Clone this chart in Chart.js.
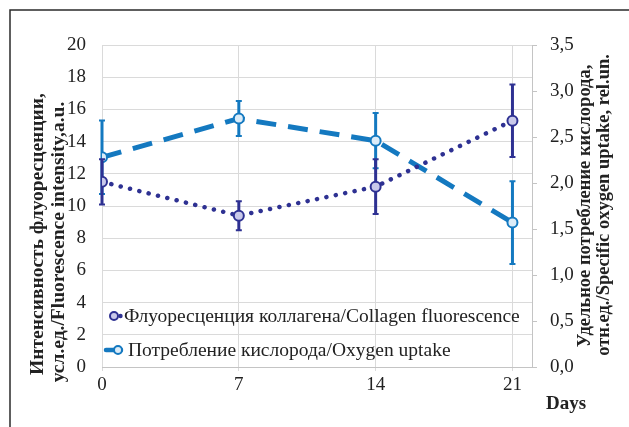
<!DOCTYPE html>
<html>
<head>
<meta charset="utf-8">
<script src="https://cdn.jsdelivr.net/npm/chart.js@4.4.1/dist/chart.umd.min.js"></script>
<style>
  html, body { margin: 0; padding: 0; background: #fff; }
  #wrap { width: 629px; height: 427px; }
</style>
</head>
<body>
<div id="wrap"><canvas id="c" width="629" height="427"></canvas></div>
<script>
// Measurement days
const days = [0, 7, 14, 21];
const dayTicks = [0, 7, 14, 21];

// Collagen fluorescence, arbitrary units (left axis)
const collagen = [11.5, 9.4, 11.2, 15.3];
const collagenErr = [1.4, 0.9, 1.7, 2.25];

// Specific oxygen uptake, relative units (right axis)
const oxygen = [2.28, 2.70, 2.46, 1.57];
const oxygenErr = [0.40, 0.19, 0.30, 0.45];

const collagenLabel = 'Флуоресценция коллагена/Collagen fluorescence';
const oxygenLabel = 'Потребление кислорода/Oxygen uptake';
const leftTitle = ['Интенсивность флуоресценции,', 'усл.ед./Fluorescence intensity,a.u.'];
const rightTitle = ['Удельное потребление кислорода,', 'отн.ед./Specific oxygen uptake, rel.un.'];
const xTitle = 'Days';

const DARK = '#2e3192';
const LIGHT = '#1479c0';
const SERIF = '"Liberation Serif", "Times New Roman", serif';

const toPoints = (xs, ys) => xs.map((x, i) => ({ x: x, y: ys[i] }));

// Vertical error bars with small caps, drawn under each series
const errorBars = {
  id: 'errorBars',
  beforeDatasetDraw(chart, args) {
    const ds = chart.data.datasets[args.index];
    if (!ds.errors) return;
    const ys = chart.scales[ds.yAxisID];
    const xs = chart.scales.x;
    const ctx = chart.ctx;
    ctx.save();
    ctx.strokeStyle = ds.borderColor;
    ctx.lineCap = 'butt';
    ds.data.forEach((p, i) => {
      const e = ds.errors[i];
      const px = xs.getPixelForValue(p.x);
      const top = ys.getPixelForValue(p.y + e);
      const bot = ys.getPixelForValue(p.y - e);
      ctx.lineWidth = 3;
      ctx.beginPath();
      ctx.moveTo(px, top); ctx.lineTo(px, bot);
      ctx.stroke();
      ctx.lineWidth = 2;
      ctx.beginPath();
      ctx.moveTo(px - 3, top); ctx.lineTo(px + 3, top);
      ctx.moveTo(px - 3, bot); ctx.lineTo(px + 3, bot);
      ctx.stroke();
    });
    ctx.restore();
  }
};

// Outer frame, rotated axis titles, "Days" and the in-plot legend
const decorations = {
  id: 'decorations',
  beforeDraw(chart) {
    const ctx = chart.ctx;
    ctx.save();
    ctx.fillStyle = '#fff';
    ctx.fillRect(0, 0, chart.width, chart.height);
    ctx.strokeStyle = '#2a2a2a';
    ctx.lineWidth = 1.5;
    ctx.beginPath();
    ctx.moveTo(10, chart.height + 2);
    ctx.lineTo(10, 10);
    ctx.lineTo(chart.width + 2, 10);
    ctx.stroke();
    ctx.restore();
  },
  afterDraw(chart) {
    const ctx = chart.ctx;
    ctx.save();
    ctx.fillStyle = '#222';
    ctx.textAlign = 'center';
    ctx.textBaseline = 'middle';
    const vText = (txt, x, y) => {
      ctx.save();
      ctx.translate(x, y);
      ctx.rotate(-Math.PI / 2);
      ctx.fillText(txt, 0, 0);
      ctx.restore();
    };
    ctx.font = 'bold 19.5px ' + SERIF;
    vText(leftTitle[0], 38, 234);
    vText(leftTitle[1], 59, 242);
    ctx.font = 'bold 18.5px ' + SERIF;
    vText(rightTitle[0], 585, 206);
    vText(rightTitle[1], 604, 205);

    ctx.font = 'bold 19px ' + SERIF;
    ctx.textAlign = 'left';
    ctx.fillText(xTitle, 546, 404);

    // legend
    const [dsC, dsO] = chart.data.datasets;
    ctx.font = '19.5px ' + SERIF;
    // collagen entry: dotted sample with marker
    const y1 = 316;
    ctx.fillStyle = dsC.borderColor;
    ctx.beginPath(); ctx.arc(120.5, y1, 2.2, 0, Math.PI * 2); ctx.fill();
    ctx.beginPath(); ctx.arc(114, y1, 4, 0, Math.PI * 2);
    ctx.fillStyle = dsC.pointBackgroundColor; ctx.fill();
    ctx.lineWidth = 2; ctx.strokeStyle = dsC.borderColor; ctx.stroke();
    ctx.fillStyle = '#222';
    ctx.fillText(collagenLabel, 124, y1 + 1);
    // oxygen entry: dashed sample with marker
    const y2 = 350;
    ctx.strokeStyle = dsO.borderColor;
    ctx.lineWidth = 4.5; ctx.lineCap = 'round';
    ctx.beginPath(); ctx.moveTo(106, y2); ctx.lineTo(121, y2); ctx.stroke();
    ctx.beginPath(); ctx.arc(118, y2, 4, 0, Math.PI * 2);
    ctx.fillStyle = dsO.pointBackgroundColor; ctx.fill();
    ctx.lineWidth = 2; ctx.stroke();
    ctx.fillStyle = '#222';
    ctx.fillText(oxygenLabel, 128, y2 + 1);
    ctx.restore();
  }
};

new Chart(document.getElementById('c'), {
  type: 'line',
  data: {
    datasets: [
      {
        label: collagenLabel,
        data: toPoints(days, collagen),
        errors: collagenErr,
        yAxisID: 'y',
        borderColor: DARK,
        borderWidth: 4.5,
        borderDash: [0.1, 9.5],
        borderCapStyle: 'round',
        pointRadius: 5,
        pointBorderWidth: 2,
        pointBorderColor: DARK,
        pointBackgroundColor: '#c9c9ea',
        tension: 0
      },
      {
        label: oxygenLabel,
        data: toPoints(days, oxygen),
        errors: oxygenErr,
        yAxisID: 'y2',
        borderColor: LIGHT,
        borderWidth: 5,
        borderDash: [20, 12],
        borderCapStyle: 'butt',
        pointRadius: 5,
        pointBorderWidth: 2,
        pointBorderColor: LIGHT,
        pointBackgroundColor: '#dcecf8',
        tension: 0
      }
    ]
  },
  options: {
    responsive: false,
    animation: false,
    events: [],
    layout: { padding: { top: 45, left: 0, right: 0, bottom: 0 } },
    plugins: { legend: { display: false }, tooltip: { enabled: false } },
    scales: {
      x: {
        type: 'linear',
        min: 0,
        max: 22,
        afterBuildTicks(scale) { scale.ticks = dayTicks.map(v => ({ value: v })); },
        afterFit(scale) { scale.height = 60; },
        grid: { color: '#dadada', lineWidth: 1, drawTicks: true, tickLength: 4 },
        border: { display: true, color: '#c4c4c4' },
        ticks: { color: '#222', font: { family: SERIF, size: 19 }, padding: 3, maxRotation: 0 }
      },
      y: {
        position: 'left',
        min: 0,
        max: 20,
        afterFit(scale) { scale.width = 102; },
        grid: { color: '#dadada', lineWidth: 1, drawTicks: false },
        border: { display: false },
        ticks: { stepSize: 2, color: '#222', font: { family: SERIF, size: 19 }, padding: 16 }
      },
      y2: {
        position: 'right',
        min: 0,
        max: 3.5,
        afterFit(scale) { scale.width = 97; },
        grid: { drawOnChartArea: false, drawTicks: true, tickLength: 5, color: '#c4c4c4' },
        border: { display: true, color: '#c4c4c4' },
        ticks: {
          stepSize: 0.5,
          color: '#222',
          font: { family: SERIF, size: 19 },
          padding: 13,
          callback: v => v.toFixed(1).replace('.', ',')
        }
      }
    }
  },
  plugins: [errorBars, decorations]
});
</script>
</body>
</html>
